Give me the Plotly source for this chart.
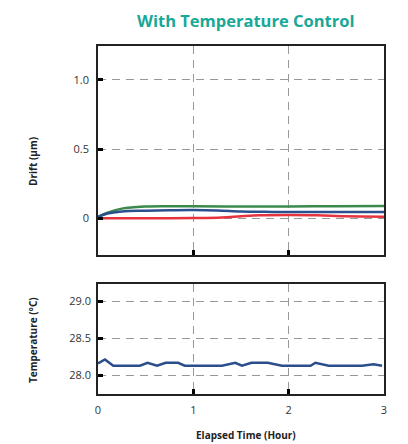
import plotly.graph_objects as go
from plotly.subplots import make_subplots

# Drift series (µm) vs elapsed time (hour)
t_green = [0.0, 0.1, 0.25, 0.5, 0.75, 1.0, 1.5, 2.0, 2.5, 3.0]
drift_green = [0.01, 0.04, 0.07, 0.085, 0.087, 0.087, 0.086, 0.086, 0.087, 0.089]
t_blue = [0.0, 0.1, 0.25, 0.5, 0.75, 1.0, 1.25, 1.5, 1.75, 2.0, 2.5, 3.0]
drift_blue = [0.01, 0.035, 0.05, 0.055, 0.058, 0.06, 0.057, 0.05, 0.047, 0.045, 0.045, 0.045]
t_red = [0.0, 0.25, 0.5, 1.0, 1.3, 1.5, 1.7, 2.0, 2.3, 2.6, 3.0]
drift_red = [0.0, 0.0, 0.0, 0.002, 0.006, 0.015, 0.022, 0.024, 0.022, 0.015, 0.012]

# Temperature (°C)
t_temp = [0.0, 0.073, 0.16, 0.44, 0.52, 0.62, 0.71, 0.84, 0.91, 1.3, 1.44, 1.51,
          1.61, 1.78, 1.93, 2.23, 2.28, 2.42, 2.77, 2.89, 2.98]
temp = [28.16, 28.215, 28.13, 28.13, 28.17, 28.13, 28.17, 28.17, 28.13, 28.13, 28.17, 28.13,
        28.17, 28.17, 28.13, 28.13, 28.17, 28.13, 28.13, 28.15, 28.13]

x_ticks = [0, 1, 2, 3]
drift_ticks = [0, 0.5, 1.0]
drift_ticktext = ["0", "0.5", "1.0"]
temp_ticks = [28.0, 28.5, 29.0]
temp_ticktext = ["28.0", "28.5", "29.0"]

fig = make_subplots(rows=2, cols=1, shared_xaxes=False, vertical_spacing=0.0)

fig.add_trace(go.Scatter(x=t_green, y=drift_green, mode="lines", line=dict(color="#3b8a4c", width=2.5, shape="spline")), row=1, col=1)
fig.add_trace(go.Scatter(x=t_blue, y=drift_blue, mode="lines", line=dict(color="#2a4f8e", width=2.5, shape="spline")), row=1, col=1)
fig.add_trace(go.Scatter(x=t_red, y=drift_red, mode="lines", line=dict(color="#e5343d", width=2.5, shape="spline")), row=1, col=1)
fig.add_trace(go.Scatter(x=t_temp, y=temp, mode="lines", line=dict(color="#2a4d8c", width=2.5)), row=2, col=1)

font_family = "Open Sans"
grid = dict(showgrid=True, gridcolor="#999999", gridwidth=1.3, griddash="8px,6px",
            showline=True, linecolor="#222", linewidth=1.5, mirror=True,
            ticks="inside", ticklen=5, tickwidth=3, tickcolor="#000",
            zeroline=False, tickfont=dict(family=font_family, size=11, color="#333"))

fig.update_layout(
    width=408, height=444,
    margin=dict(l=98, r=24, t=46, b=50),
    paper_bgcolor="white", plot_bgcolor="white",
    showlegend=False,
    xaxis=dict(domain=[0, 1], range=[0, 3], tickvals=x_ticks, showticklabels=False, anchor="y", **grid),
    yaxis=dict(domain=[0.3994, 1.0], range=[-0.265, 1.245], tickvals=drift_ticks, ticktext=drift_ticktext,
               anchor="x", ticklabelstandoff=5, **grid),
    xaxis2=dict(domain=[0, 1], range=[0, 3], tickvals=x_ticks, anchor="y2", ticklabelstandoff=5, **grid),
    yaxis2=dict(domain=[0, 0.316], range=[27.75, 29.23], tickvals=temp_ticks, ticktext=temp_ticktext,
                anchor="x2", ticklabelstandoff=3, **grid),
    annotations=[
        dict(text="<b>With Temperature Control</b>", x=0.5, y=1, xref="paper", yref="paper",
             xanchor="center", yanchor="middle", yshift=26, xshift=4, showarrow=False,
             font=dict(family=font_family, size=16.5, color="#18a897")),
        dict(text="<b>Drift (µm)</b>", x=0, y=0.667, xref="paper", yref="paper",
             xanchor="center", yanchor="middle", xshift=-65, textangle=-90, showarrow=False,
             font=dict(family=font_family, size=10, color="#222")),
        dict(text="<b>Temperature (°C)</b>", x=0, y=0.155, xref="paper", yref="paper",
             xanchor="center", yanchor="middle", xshift=-65, textangle=-90, showarrow=False,
             font=dict(family=font_family, size=10, color="#222")),
        dict(text="<b>Elapsed Time (Hour)</b>", x=0.5, y=0, xref="paper", yref="paper",
             xanchor="center", yanchor="middle", yshift=-41, xshift=5, showarrow=False,
             font=dict(family=font_family, size=10, color="#222")),
    ],
)

fig.write_html("out.html")
